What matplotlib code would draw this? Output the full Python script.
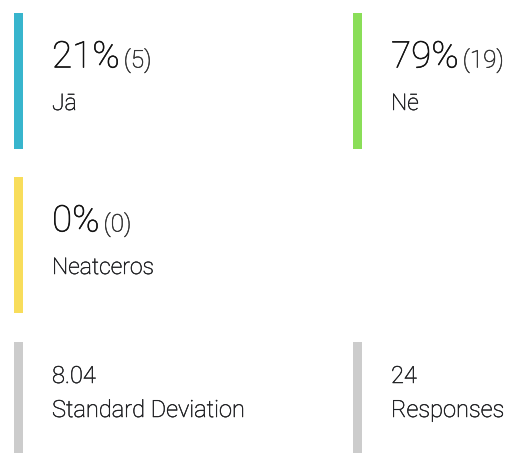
import matplotlib.pyplot as plt
import matplotlib.patheffects as pe
from matplotlib.patches import Rectangle

# answer cards
labels = ["Jā", "Nē", "Neatceros"]
counts = [5, 19, 0]
percents = [21, 79, 0]
card_colors = ["#38b5cd", "#8ade58", "#f8dd5b"]

# summary cards
stat_values = ["8.04", "24"]
stat_labels = ["Standard Deviation", "Responses"]
stat_color = "#cccccc"

W, H = 507, 453
col_x = [14, 353]
bar_w = 9
text_dx = 38
ink = "#202124"


def thick(lw, color):
    # light weight reads too thin at this size, fatten the strokes a bit
    return [pe.Stroke(linewidth=lw, foreground=color), pe.Normal()]


plt.rcParams['font.family'] = ['Roboto', 'DejaVu Sans']

fig = plt.figure(figsize=(W / 100, H / 100), dpi=100)
ax = fig.add_axes([0, 0, 1, 1])
ax.set_xlim(0, W)
ax.set_ylim(H, 0)
ax.axis("off")

big_texts = []
for i, (lab, n, p, c) in enumerate(zip(labels, counts, percents, card_colors)):
    x0 = col_x[i % 2]
    y0 = 13 + 164 * (i // 2)
    ax.add_patch(Rectangle((x0, y0), bar_w, 136, color=c, lw=0))
    t = ax.text(x0 + text_dx, y0 + 54.5, f"{p}%", fontsize=26.5, fontweight="light",
                color="#111111", va="baseline", path_effects=thick(0.35, "#111111"))
    big_texts.append((t, n, y0 + 54.5))
    ax.text(x0 + text_dx, y0 + 97, lab, fontsize=16.5, fontweight="light",
            color=ink, va="baseline", path_effects=thick(0.35, ink))

for i, (v, lab) in enumerate(zip(stat_values, stat_labels)):
    x0 = col_x[i]
    y0 = 342
    ax.add_patch(Rectangle((x0, y0), bar_w, 120, color=stat_color, lw=0))
    ax.text(x0 + text_dx, y0 + 41, v, fontsize=17, fontweight="light",
            color=ink, va="baseline", path_effects=thick(0.35, ink))
    ax.text(x0 + text_dx, y0 + 75, lab, fontsize=17, fontweight="light",
            color=ink, va="baseline", path_effects=thick(0.35, ink))

fig.canvas.draw()
r = fig.canvas.get_renderer()
for t, n, yb in big_texts:
    bb = t.get_window_extent(renderer=r)
    ax.text(bb.x1 + 4, yb, f"({n})", fontsize=17.5, fontweight="light",
            color="#333333", va="baseline", path_effects=thick(0.35, "#333333"))

fig.savefig("out.png", dpi=100, facecolor="white")
